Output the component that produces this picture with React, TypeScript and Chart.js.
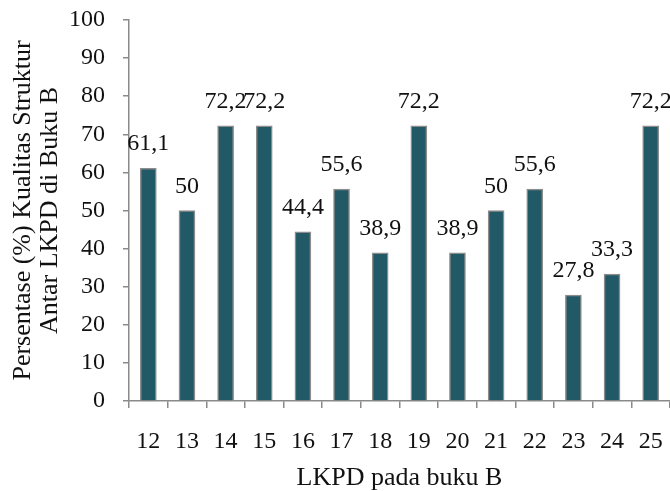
import React, { useEffect, useRef } from "react";
import { Chart, registerables } from "chart.js";

Chart.register(...registerables);

const categories = ["12", "13", "14", "15", "16", "17", "18", "19", "20", "21", "22", "23", "24", "25"];
const values = [61.1, 50, 72.2, 72.2, 44.4, 55.6, 38.9, 72.2, 38.9, 50, 55.6, 27.8, 33.3, 72.2];
const yTitle = ["Persentase (%) Kualitas Struktur", "Antar LKPD di Buku B"];
const xTitle = "LKPD pada buku B";

const FONT = "'Liberation Serif', 'Times New Roman', serif";
const SIZE = 24;
const TITLE_SIZE = 26;
const TEXT = "#111111";
const AXIS = "#8a8a8a";

// Writes each bar's value above it, with a decimal comma.
const valueLabels = {
  id: "valueLabels",
  afterDatasetsDraw(chart: any) {
    const ctx = chart.ctx;
    const meta = chart.getDatasetMeta(0);
    ctx.save();
    ctx.font = `${SIZE}px ${FONT}`;
    ctx.fillStyle = TEXT;
    ctx.textAlign = "center";
    ctx.textBaseline = "alphabetic";
    meta.data.forEach((bar: any, i: number) => {
      const v = chart.data.datasets[0].data[i] as number;
      ctx.fillText(String(v).replace(".", ","), bar.x, bar.y - 18);
    });
    ctx.restore();
  },
};

export default function App() {
  const ref = useRef<HTMLCanvasElement>(null);

  useEffect(() => {
    document.body.style.margin = "0";
    const canvas = ref.current!;
    const chart = new Chart(canvas, {
      type: "bar",
      data: {
        labels: categories,
        datasets: [
          {
            data: values,
            backgroundColor: "#215967",
            borderColor: "#8c8c8c",
            borderWidth: 1.5,
            barThickness: 16,
          },
        ],
      },
      options: {
        responsive: false,
        animation: false,
        devicePixelRatio: 1,
        layout: { padding: { top: 20, right: 0, bottom: 0, left: 0 } },
        plugins: {
          legend: { display: false },
          tooltip: { enabled: false },
        },
        scales: {
          x: {
            afterFit(scale: any) {
              scale.height = 90;
              scale.paddingLeft = 0;
              scale.paddingRight = 0;
            },
            grid: {
              offset: true,
              drawOnChartArea: false,
              drawTicks: true,
              tickLength: 7,
              color: AXIS,
              lineWidth: 1.5,
            },
            border: { color: AXIS, width: 1.5 },
            ticks: {
              color: TEXT,
              font: { family: FONT, size: SIZE },
              padding: 19,
              maxRotation: 0,
            },
            title: {
              display: true,
              text: xTitle,
              color: TEXT,
              font: { family: FONT, size: TITLE_SIZE, lineHeight: 1 },
              padding: { top: 0, bottom: 0 },
            },
          },
          y: {
            min: 0,
            max: 100,
            afterFit(scale: any) {
              scale.width = 129;
              scale.paddingTop = 0;
              scale.paddingBottom = 0;
            },
            grid: {
              drawOnChartArea: false,
              drawTicks: true,
              tickLength: 6,
              color: AXIS,
              lineWidth: 1.5,
            },
            border: { color: AXIS, width: 1.5 },
            ticks: {
              stepSize: 10,
              color: TEXT,
              font: { family: FONT, size: SIZE },
              padding: 18,
            },
            title: {
              display: true,
              text: yTitle,
              color: TEXT,
              font: { family: FONT, size: TITLE_SIZE, lineHeight: 1.04 },
              padding: { top: 10, bottom: 0 },
            },
          },
        },
      },
      plugins: [valueLabels],
    });
    return () => chart.destroy();
  }, []);

  return <canvas ref={ref} width={670} height={491} />;
}
